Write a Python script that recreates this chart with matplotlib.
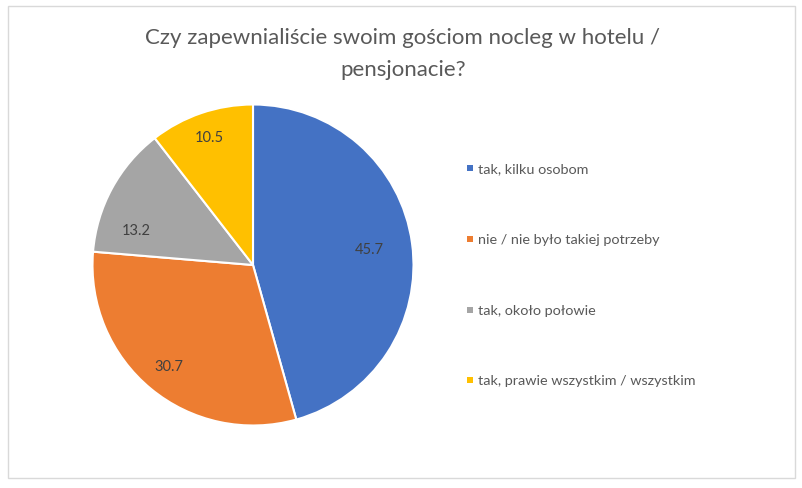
import numpy as np
import matplotlib
matplotlib.use("Agg")
from matplotlib import pyplot as plt
import matplotlib.patches as patches

# data
title_lines = ["Czy zapewnialiście swoim gościom nocleg w hotelu /", "pensjonacie?"]
categories = [
    "tak, kilku osobom",
    "nie / nie było takiej potrzeby",
    "tak, około połowie",
    "tak, prawie wszystkim / wszystkim",
]
values = [45.7, 30.7, 13.2, 10.5]
colors = ["#4472C4", "#ED7D31", "#A5A5A5", "#FFC000"]

W, H = 802, 489
plt.rcParams["font.family"] = ["Lato", "DejaVu Sans"]

fig = plt.figure(figsize=(W / 100, H / 100), dpi=100)

# chart frame
fig.patches.append(
    patches.Rectangle(
        (8 / W, 1 - 479 / H), 787 / W, 472 / H,
        transform=fig.transFigure, fill=False, edgecolor="#D9D9D9", linewidth=1,
    )
)

for line, y in zip(title_lines, [38, 70]):
    fig.text(403 / W, 1 - y / H, line, ha="center", va="center",
             fontsize=16, color="#595959")

# pie
cx, cy, r = 253, 266, 160.5
ax = fig.add_axes([(cx - r) / W, 1 - (cy + r) / H, 2 * r / W, 2 * r / H])
wedges, _ = ax.pie(
    values, colors=colors, startangle=90, counterclock=False,
    wedgeprops=dict(edgecolor="white", linewidth=1.5),
)
ax.set_xlim(-1, 1)
ax.set_ylim(-1, 1)
ax.set_aspect("equal")
ax.axis("off")

label_dist = [0.73, 0.82, 0.76, 0.84]
label_shift = [0, 0, 12, 0]
for w, v, d, s in zip(wedges, values, label_dist, label_shift):
    ang = np.deg2rad((w.theta1 + w.theta2) / 2 + s)
    ax.text(d * np.cos(ang), d * np.sin(ang), f"{v}", ha="center", va="center",
            fontsize=10.5, color="#404040")

# legend
leg_y = [169, 240, 311, 381]
for cat, col, y in zip(categories, colors, leg_y):
    fig.patches.append(
        patches.Rectangle((467 / W, 1 - (y + 3) / H), 6 / W, 6 / H,
                          transform=fig.transFigure, facecolor=col, edgecolor="none")
    )
    fig.text(478 / W, 1 - y / H, cat, ha="left", va="center",
             fontsize=10.4, color="#595959")

fig.savefig("out.png", dpi=100)
